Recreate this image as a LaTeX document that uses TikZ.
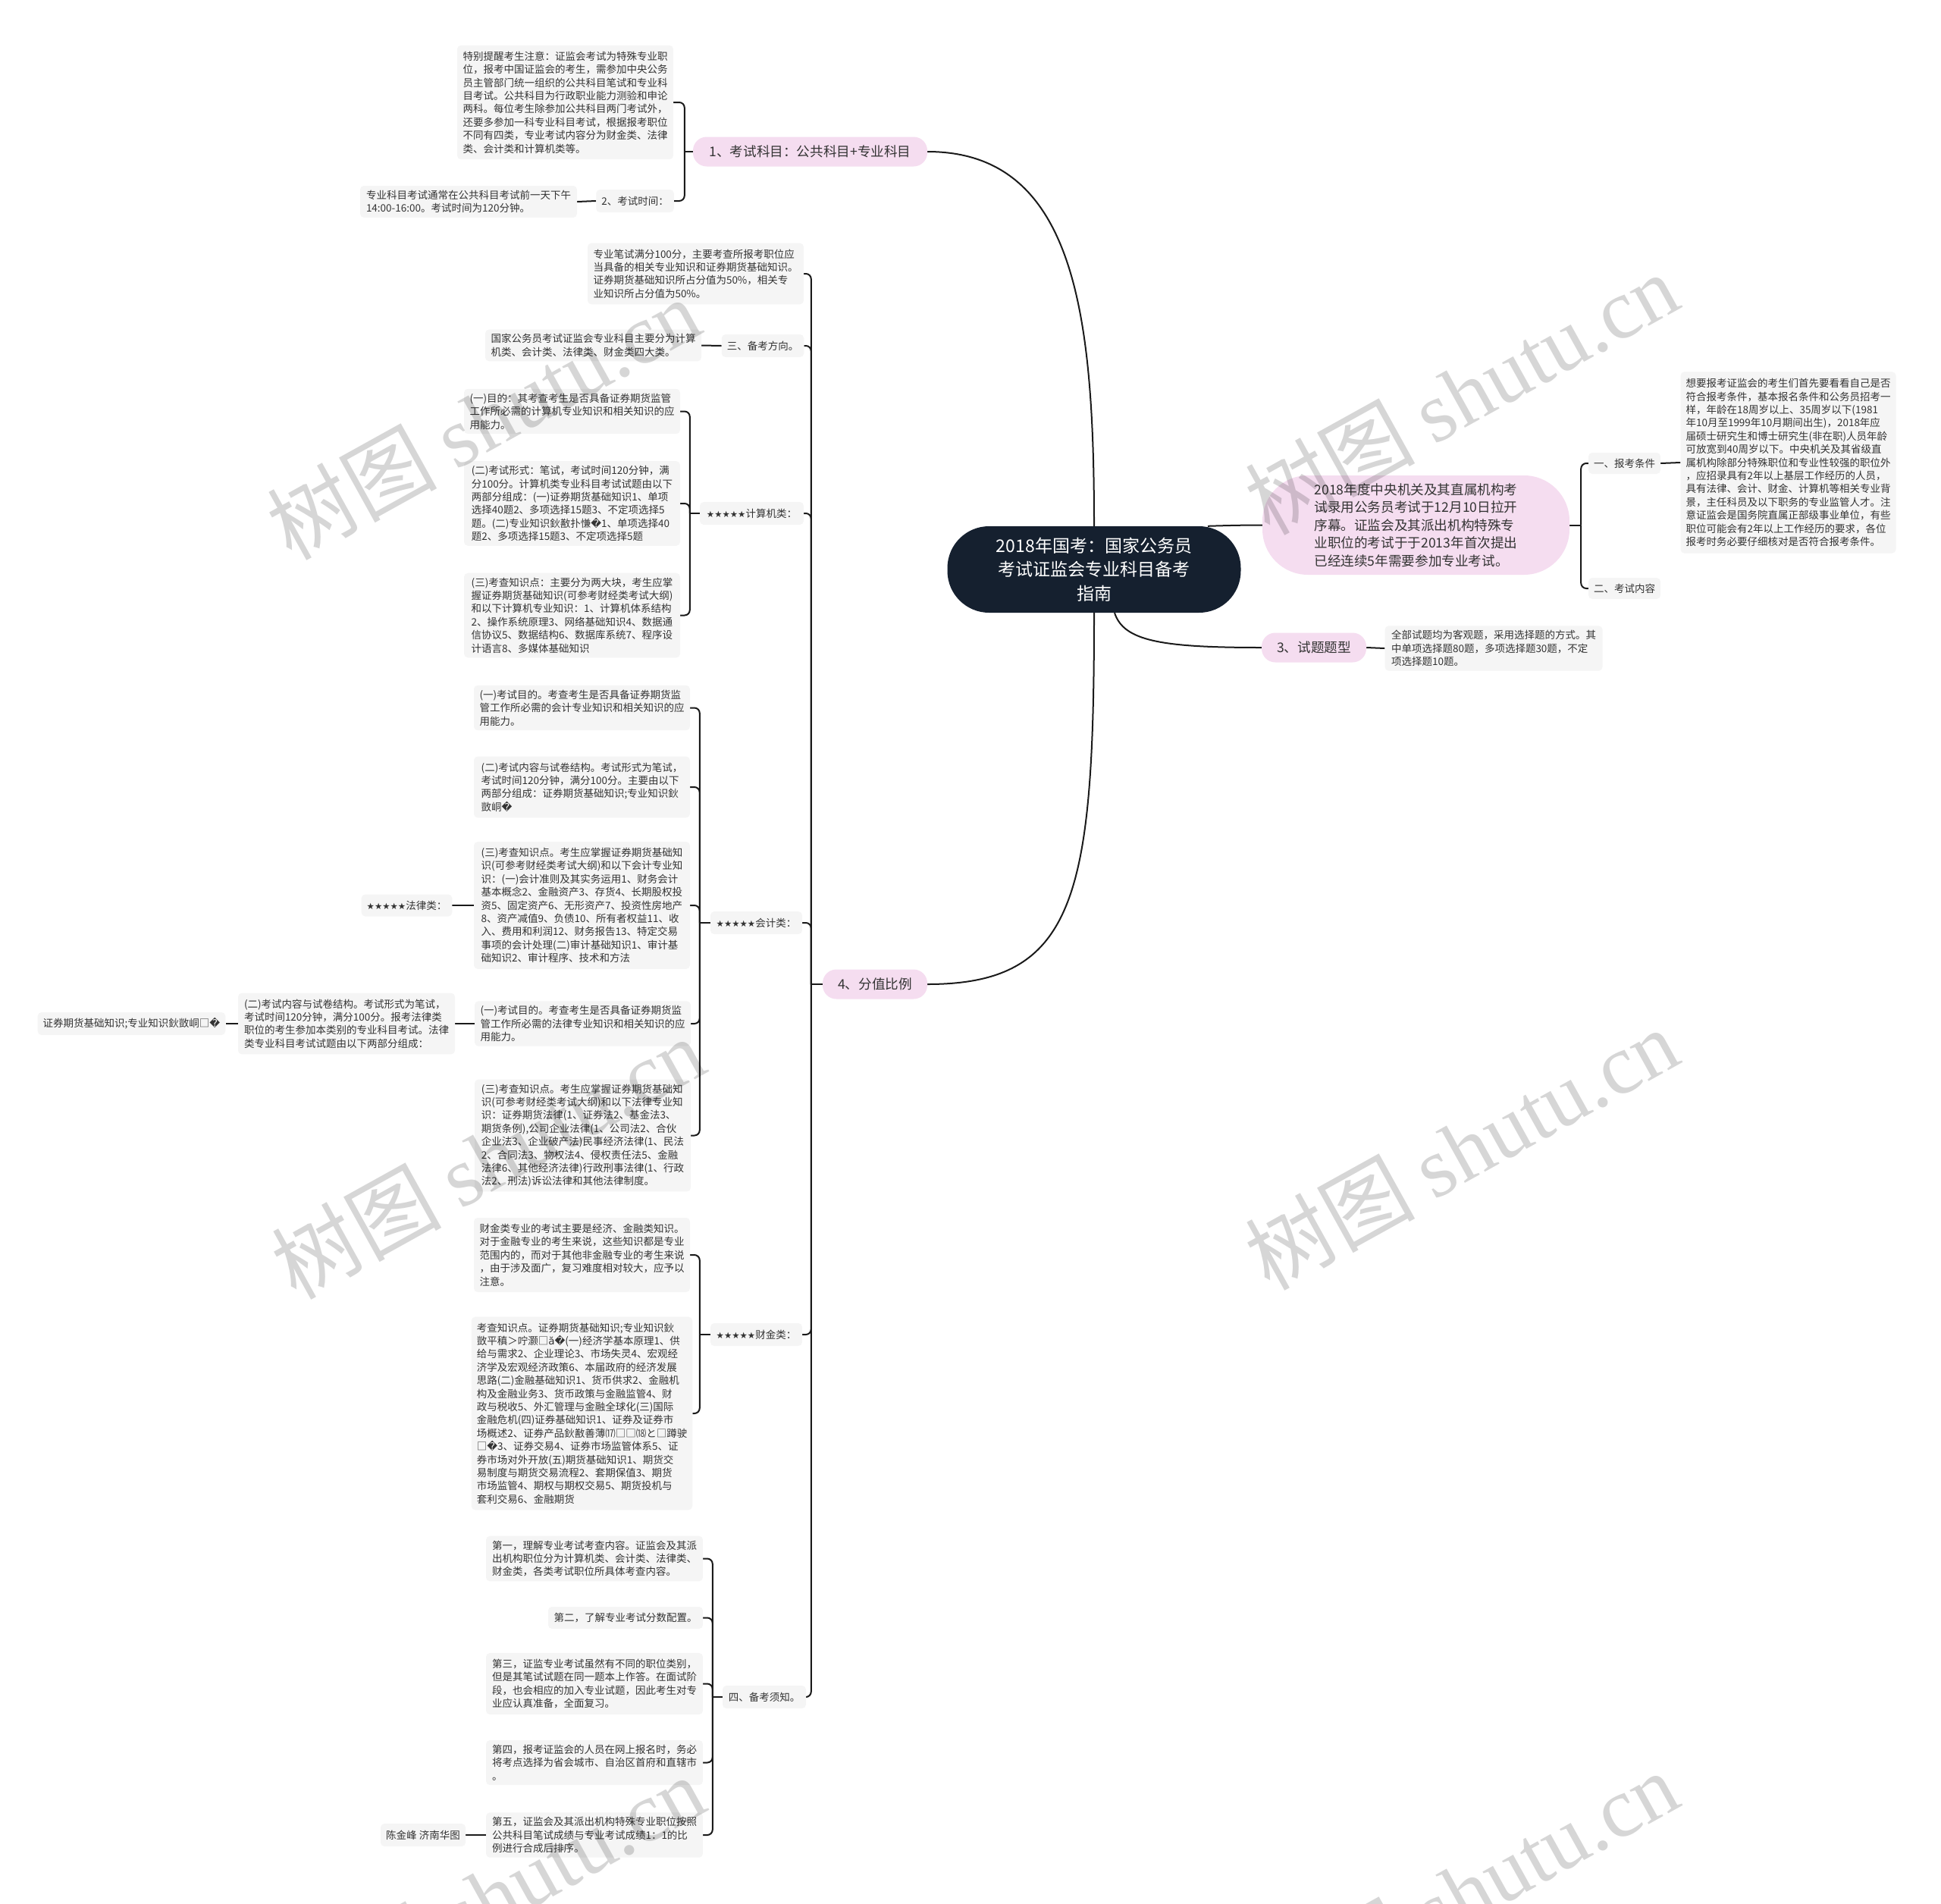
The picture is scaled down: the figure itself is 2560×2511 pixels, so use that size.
\documentclass[tikz,border=0pt]{standalone}
\usepackage{fontspec}
\setmainfont{Noto Sans CJK SC}
\newfontfamily\djv{DejaVu Sans}
\newfontfamily\wmlat{Liberation Serif}
\usetikzlibrary{calc}
\pgfdeclarelayer{background}
\pgfdeclarelayer{foreground}
\pgfsetlayers{background,main,foreground}
\definecolor{pinkbg}{HTML}{F5DDF0}
\definecolor{rootbg}{HTML}{15202F}
\definecolor{boxbg}{HTML}{F5F5F5}
\definecolor{txt}{HTML}{333333}
\definecolor{linec}{HTML}{1A1A1A}
\newcommand{\rp}{{\djv\char"FFFD}}
\newcommand{\stars}{{\djv\fontsize{11.5}{17.4}\selectfont ★★★★★}}
\tikzset{
  txtbox/.style={fill=boxbg, rounded corners=5pt, align=left, inner xsep=7pt, inner ysep=8pt,
    text=txt, font=\fontsize{13.5}{17.4}\selectfont, anchor=center},
  lbl/.style={txtbox, minimum height=30pt, inner ysep=4pt},
  pill/.style={fill=pinkbg, rounded corners=18pt, minimum height=39pt, text=txt,
    font=\fontsize{17.6}{22}\selectfont, inner xsep=10pt, anchor=center},
  bignote/.style={fill=pinkbg, rounded corners=60pt, minimum width=405pt, minimum height=131pt,
    text=txt, align=left, font=\fontsize{17.6}{23.5}\selectfont, anchor=center},
  rootnode/.style={fill=rootbg, rounded corners=55pt, text=white, align=center,
    font=\fontsize{23}{31.5}\selectfont, minimum width=387pt, minimum height=114pt, anchor=center},
  conn/.style={draw=linec, line width=2pt},
  brk/.style={conn, rounded corners=7pt},
  wm/.style={text=black, opacity=0.16, rotate=29, font=\fontsize{112}{112}\selectfont, anchor=center}
}
\begin{document}
\begin{tikzpicture}[x=1pt,y=-1pt]
\useasboundingbox (0,0) rectangle (2560,2511);

% ---------- root ----------
\node[rootnode] (root) at (1443,751) {2018年国考：国家公务员\\考试证监会专业科目备考\\指南};

% ---------- topic 1 ----------
\node[pill, minimum width=309pt] (B) at (1068.5,200) {1、考试科目：公共科目+专业科目};
\node[txtbox, minimum width=285pt] (B1) at (745.5,135) {特别提醒考生注意：证监会考试为特殊专业职\\位，报考中国证监会的考生，需参加中央公务\\员主管部门统一组织的公共科目笔试和专业科\\目考试。公共科目为行政职业能力测验和申论\\两科。每位考生除参加公共科目两门考试外，\\还要多参加一科专业科目考试，根据报考职位\\不同有四类，专业考试内容分为财金类、法律\\类、会计类和计算机类等。};
\node[lbl, minimum width=101pt] (B2) at (837.5,265) {2、考试时间：};
\node[txtbox, minimum width=286pt, inner ysep=6pt] (B2a) at (618,266) {专业科目考试通常在公共科目考试前一天下午\\14:00-16:00。考试时间为120分钟。};

% ---------- topic 4 ----------
\node[pill, minimum width=138pt] (C) at (1154,1298) {4、分值比例};
\node[txtbox, minimum width=285pt] (C1) at (917.5,361) {专业笔试满分100分，主要考查所报考职位应\\当具备的相关专业知识和证券期货基础知识。\\证券期货基础知识所占分值为50\%，相关专\\业知识所占分值为50\%。};
\node[lbl, minimum width=108pt] (C2) at (1006,456) {三、备考方向。};
\node[txtbox, minimum width=285pt, inner ysep=6pt] (C2a) at (782.5,455.5) {国家公务员考试证监会专业科目主要分为计算\\机类、会计类、法律类、财金类四大类。};

\node[lbl, minimum width=137pt] (C3) at (991.5,677) {\stars 计算机类：};
\node[txtbox, minimum width=285pt, inner ysep=6pt] (C3a) at (754.5,542.5) {(一)目的：其考查考生是否具备证券期货监管\\工作所必需的计算机专业知识和相关知识的应\\用能力。};
\node[txtbox, minimum width=285pt, inner ysep=6pt] (C3b) at (754.5,664) {(二)考试形式：笔试，考试时间120分钟，满\\分100分。计算机类专业科目考试试题由以下\\两部分组成：(一)证券期货基础知识1、单项\\选择40题2、多项选择15题3、不定项选择5\\题。(二)专业知识鈥敾扑慊\rp 1、单项选择40\\题2、多项选择15题3、不定项选择5题};
\node[txtbox, minimum width=285pt, inner ysep=6pt] (C3c) at (754.5,811.5) {(三)考查知识点：主要分为两大块，考生应掌\\握证券期货基础知识(可参考财经类考试大纲)\\和以下计算机专业知识：1、计算机体系结构\\2、操作系统原理3、网络基础知识4、数据通\\信协议5、数据结构6、数据库系统7、程序设\\计语言8、多媒体基础知识};

\node[lbl, minimum width=121pt] (C4) at (997.5,1217) {\stars 会计类：};
\node[txtbox, minimum width=285pt, inner ysep=6pt] (C4a) at (767.5,933.5) {(一)考试目的。考查考生是否具备证券期货监\\管工作所必需的会计专业知识和相关知识的应\\用能力。};
\node[txtbox, minimum width=285pt] (C4b) at (767.5,1038) {(二)考试内容与试卷结构。考试形式为笔试，\\考试时间120分钟，满分100分。主要由以下\\两部分组成：证券期货基础知识;专业知识鈥\\敳峒\rp};
\node[txtbox, minimum width=285pt] (C4c) at (767.5,1194) {(三)考查知识点。考生应掌握证券期货基础知\\识(可参考财经类考试大纲)和以下会计专业知\\识：(一)会计准则及其实务运用1、财务会计\\基本概念2、金融资产3、存货4、长期股权投\\资5、固定资产6、无形资产7、投资性房地产\\8、资产减值9、负债10、所有者权益11、收\\入、费用和利润12、财务报告13、特定交易\\事项的会计处理(二)审计基础知识1、审计基\\础知识2、审计程序、技术和方法};
\node[lbl, minimum width=119pt, minimum height=29pt] (C4c1) at (536.5,1194) {\stars 法律类：};
\node[txtbox, minimum width=285pt, inner ysep=6pt] (C4d) at (768.5,1350) {(一)考试目的。考查考生是否具备证券期货监\\管工作所必需的法律专业知识和相关知识的应\\用能力。};
\node[txtbox, minimum width=286pt] (C4d1) at (457,1350) {(二)考试内容与试卷结构。考试形式为笔试，\\考试时间120分钟，满分100分。报考法律类\\职位的考生参加本类别的专业科目考试。法律\\类专业科目考试试题由以下两部分组成：};
\node[lbl, minimum width=231pt] (C4d2) at (173.5,1350) {证券期货基础知识;专业知识鈥敳峒□\rp};
\node[txtbox, minimum width=285pt, inner ysep=6pt] (C4e) at (768.5,1497.5) {(三)考查知识点。考生应掌握证券期货基础知\\识(可参考财经类考试大纲)和以下法律专业知\\识：证券期货法律(1、证券法2、基金法3、\\期货条例),公司企业法律(1、公司法2、合伙\\企业法3、企业破产法)民事经济法律(1、民法\\2、合同法3、物权法4、侵权责任法5、金融\\法律6、其他经济法律)行政刑事法律(1、行政\\法2、刑法)诉讼法律和其他法律制度。};

\node[lbl, minimum width=121pt] (C5) at (997.5,1760) {\stars 财金类：};
\node[txtbox, minimum width=285pt] (C5a) at (767.5,1655) {财金类专业的考试主要是经济、金融类知识。\\对于金融专业的考生来说，这些知识都是专业\\范围内的，而对于其他非金融专业的考生来说\\，由于涉及面广，复习难度相对较大，应予以\\注意。};
\node[txtbox, minimum width=285pt] (C5b) at (767.5,1864) {考查知识点。证券期货基础知识;专业知识鈥\\敳平稹＞咛灏□{\djv ă}\rp(一)经济学基本原理1、供\\给与需求2、企业理论3、市场失灵4、宏观经\\济学及宏观经济政策6、本届政府的经济发展\\思路(二)金融基础知识1、货币供求2、金融机\\构及金融业务3、货币政策与金融监管4、财\\政与税收5、外汇管理与金融全球化(三)国际\\金融危机(四)证券基础知识1、证券及证券市\\场概述2、证券产品鈥敾善薄⒄□□⒅と□蹲驶\\□\rp 3、证券交易4、证券市场监管体系5、证\\券市场对外开放(五)期货基础知识1、期货交\\易制度与期货交易流程2、套期保值3、期货\\市场监管4、期权与期权交易5、期货投机与\\套利交易6、金融期货};

\node[lbl, minimum width=110pt] (C6) at (1008,2238) {四、备考须知。};
\node[txtbox, minimum width=286pt, inner ysep=6pt] (C6a) at (784,2055.5) {第一，理解专业考试考查内容。证监会及其派\\出机构职位分为计算机类、会计类、法律类、\\财金类，各类考试职位所具体考查内容。};
\node[lbl, minimum width=204pt, minimum height=29pt] (C6b) at (825,2133.5) {第二，了解专业考试分数配置。};
\node[txtbox, minimum width=286pt] (C6c) at (784,2220.5) {第三，证监专业考试虽然有不同的职位类别，\\但是其笔试试题在同一题本上作答。在面试阶\\段，也会相应的加入专业试题，因此考生对专\\业应认真准备，全面复习。};
\node[txtbox, minimum width=286pt, inner ysep=6pt] (C6d) at (784,2324.5) {第四，报考证监会的人员在网上报名时，务必\\将考点选择为省会城市、自治区首府和直辖市\\。};
\node[txtbox, minimum width=286pt, inner ysep=6pt] (C6e) at (784,2420) {第五，证监会及其派出机构特殊专业职位按照\\公共科目笔试成绩与专业考试成绩1：1的比\\例进行合成后排序。};
\node[lbl, minimum width=112pt] (C6e1) at (558,2420) {陈金峰 济南华图};

% ---------- right side ----------
\node[bignote] (D) at (1867.5,692.5) {2018年度中央机关及其直属机构考\\试录用公务员考试于12月10日拉开\\序幕。证监会及其派出机构特殊专\\业职位的考试于于2013年首次提出\\已经连续5年需要参加专业考试。};
\node[lbl, minimum width=91pt, minimum height=28pt] (D1) at (2142.5,611) {一、报考条件};
\node[txtbox, minimum width=283pt, inner ysep=9pt] (D1a) at (2358.5,610) {想要报考证监会的考生们首先要看看自己是否\\符合报考条件，基本报名条件和公务员招考一\\样，年龄在18周岁以上、35周岁以下(1981\\年10月至1999年10月期间出生)，2018年应\\届硕士研究生和博士研究生(非在职)人员年龄\\可放宽到40周岁以下。中央机关及其省级直\\属机构除部分特殊职位和专业性较强的职位外\\，应招录具有2年以上基层工作经历的人员，\\具有法律、会计、财金、计算机等相关专业背\\景，主任科员及以下职务的专业监管人才。注\\意证监会是国务院直属正部级事业单位，有些\\职位可能会有2年以上工作经历的要求，各位\\报考时务必要仔细核对是否符合报考条件。};
\node[lbl, minimum width=91pt, minimum height=28pt] (D2) at (2142.5,776) {二、考试内容};

\node[pill, minimum width=138pt] (E) at (1733,854) {3、试题题型};
\node[txtbox, minimum width=287pt, inner ysep=6pt] (E1) at (1970,855) {全部试题均为客观题，采用选择题的方式。其\\中单项选择题80题，多项选择题30题，不定\\项选择题10题。};

% ---------- connectors ----------
\begin{pgfonlayer}{background}
\draw[conn] (root.north) .. controls (1443,420) and (1420,200) .. (B.east);
\draw[conn] (root.south) .. controls (1443,1180) and (1420,1298) .. (C.east);
\draw[conn] ($(root.north)+(150,0)$) .. controls (1620,693) and (1640,692.5) .. (D.west);
\draw[conn] ($(root.south)+(27,0)$) .. controls (1482,845) and (1530,854) .. (E.west);

% topic 1
\coordinate (bB) at ($(B.west)+(-11,0)$);
\draw[conn] (B.west) -- (bB);
\foreach \c in {B1,B2} \draw[brk] (bB) |- (\c.east);
\draw[conn] (B2.west) -- (B2a.east);

% topic 4
\coordinate (bC) at ($(C.west)+(-15,0)$);
\draw[conn] (C.west) -- (bC);
\foreach \c in {C1,C2,C3,C4,C5,C6} \draw[brk] (bC) |- (\c.east);
\draw[conn] (C2.west) -- (C2a.east);

\coordinate (bC3) at ($(C3.west)+(-13,0)$);
\draw[conn] (C3.west) -- (bC3);
\foreach \c in {C3a,C3b,C3c} \draw[brk] (bC3) |- (\c.east);

\coordinate (bC4) at ($(C4.west)+(-14,0)$);
\draw[conn] (C4.west) -- (bC4);
\foreach \c in {C4a,C4b,C4c,C4d,C4e} \draw[brk] (bC4) |- (\c.east);
\draw[conn] (C4c.west) -- (C4c1.east);
\draw[conn] (C4d.west) -- (C4d1.east);
\draw[conn] (C4d1.west) -- (C4d2.east);

\coordinate (bC5) at ($(C5.west)+(-14,0)$);
\draw[conn] (C5.west) -- (bC5);
\foreach \c in {C5a,C5b} \draw[brk] (bC5) |- (\c.east);

\coordinate (bC6) at ($(C6.west)+(-13,0)$);
\draw[conn] (C6.west) -- (bC6);
\foreach \c in {C6a,C6b,C6c,C6d,C6e} \draw[brk] (bC6) |- (\c.east);
\draw[conn] (C6e.west) -- (C6e1.east);

% right side
\coordinate (bD) at ($(D.east)+(15,0)$);
\draw[conn] (D.east) -- (bD);
\foreach \c in {D1,D2} \draw[brk] (bD) |- (\c.west);
\draw[conn] (D1.east) -- (D1a.west);
\draw[conn] (E.east) -- (E1.west);
\end{pgfonlayer}

% ---------- watermarks ----------
\begin{pgfonlayer}{foreground}
\node[wm] (w1) at (637,552) {树图 {\wmlat shutu.cn}};
\node[wm] (w2) at (1927,519) {树图 {\wmlat shutu.cn}};
\node[wm] (w3) at (643,1527) {树图 {\wmlat shutu.cn}};
\node[wm] (w4) at (1927,1515) {树图 {\wmlat shutu.cn}};
\node[wm] (w5) at (643,2501) {树图 {\wmlat shutu.cn}};
\node[wm] (w6) at (1927,2495) {树图 {\wmlat shutu.cn}};
\end{pgfonlayer}
\end{tikzpicture}
\end{document}
